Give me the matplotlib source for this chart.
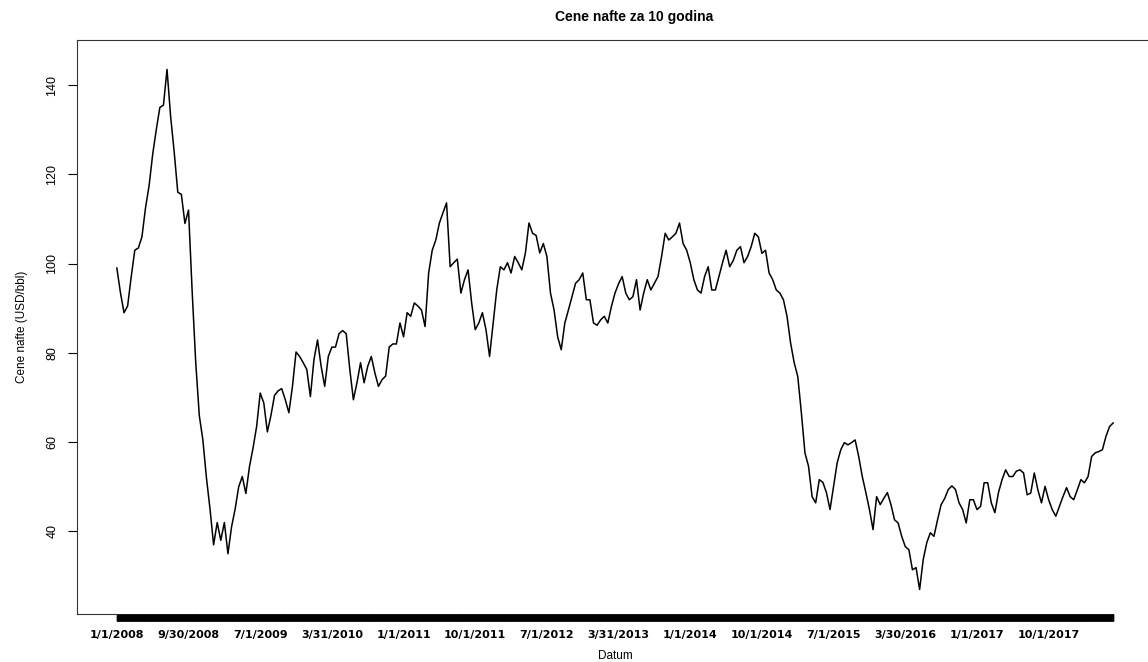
import numpy as np
import matplotlib
matplotlib.use('Agg')
import matplotlib.pyplot as plt

plt.rcParams['font.family'] = ['Liberation Sans', 'DejaVu Sans']

price = [
    99.0, 93.5, 89.0, 90.5, 97.0, 103.0, 103.5, 106.0, 112.5, 117.5,
    124.5, 130.0, 135.0, 135.5, 143.5, 133.0, 125.0, 116.0, 115.5, 109.0,
    112.0, 94.0, 78.0, 66.0, 60.5, 52.0, 45.0, 37.0, 42.0, 38.0,
    42.0, 35.0, 41.0, 45.0, 50.0, 52.3, 48.5, 54.5, 58.7, 63.5,
    71.0, 68.8, 62.3, 66.0, 70.5, 71.5, 72.0, 69.5, 66.6, 72.5,
    80.2, 79.2, 77.8, 76.3, 70.2, 78.5, 82.9, 77.0, 72.5, 79.2,
    81.3, 81.3, 84.3, 85.0, 84.3, 76.3, 69.5, 73.3, 77.8, 73.3,
    77.0, 79.2, 75.5, 72.5, 74.0, 74.8, 81.3, 82.0, 82.0, 86.7,
    83.6, 89.0, 88.2, 91.2, 90.5, 89.6, 85.9, 97.9, 103.0, 105.3,
    109.1, 111.4, 113.6, 99.3, 100.2, 101.0, 93.4, 96.4, 98.6, 91.2,
    85.2, 86.7, 89.0, 85.2, 79.2, 86.7, 94.1, 99.3, 98.6, 100.2,
    97.9, 101.6, 100.2, 98.6, 102.4, 109.1, 106.8, 106.3, 102.4, 104.5,
    101.6, 93.4, 89.6, 83.6, 80.7, 86.7, 89.6, 92.6, 95.6, 96.4,
    97.9, 91.9, 91.9, 86.7, 86.2, 87.4, 88.2, 86.7, 90.4, 93.4,
    95.5, 97.1, 93.4, 91.9, 92.6, 96.4, 89.6, 93.4, 96.4, 94.1,
    95.6, 97.1, 101.6, 106.8, 105.3, 106.0, 106.8, 109.1, 104.5, 103.0,
    100.2, 96.4, 94.1, 93.4, 97.1, 99.3, 94.1, 94.1, 97.1, 100.2,
    103.0, 99.3, 100.7, 103.0, 103.8, 100.2, 101.6, 103.8, 106.8, 106.0,
    102.3, 103.0, 97.9, 96.4, 94.1, 93.4, 91.9, 88.2, 82.2, 77.8,
    74.7, 66.6, 57.6, 54.6, 47.8, 46.4, 51.6, 51.0, 48.7, 44.9,
    50.2, 55.4, 58.3, 59.9, 59.4, 59.9, 60.5, 56.8, 52.3, 48.7,
    44.9, 40.4, 47.8, 46.0, 47.4, 48.7, 46.0, 42.6, 41.9, 38.9,
    36.6, 35.9, 31.4, 31.9, 27.0, 33.7, 37.5, 39.7, 38.9, 42.6,
    46.0, 47.4, 49.4, 50.2, 49.4, 46.4, 44.9, 41.9, 47.1, 47.1,
    44.9, 45.6, 50.9, 50.9, 46.4, 44.2, 48.7, 51.6, 53.8, 52.3,
    52.3, 53.5, 53.8, 53.1, 48.2, 48.6, 53.1, 49.3, 46.4, 50.1,
    47.1, 44.9, 43.4, 45.6, 47.8, 49.8, 47.8, 47.1, 49.3, 51.6,
    50.9, 52.3, 56.8, 57.6, 57.9, 58.3, 61.3, 63.5, 64.3,
]

date_labels = ['1/1/2008', '9/30/2008', '7/1/2009', '3/31/2010', '1/1/2011',
               '10/1/2011', '7/1/2012', '3/31/2013', '1/1/2014', '10/1/2014',
               '7/1/2015', '3/30/2016', '1/1/2017', '10/1/2017']

step = 9          # days per sample
per_label = 20    # samples between labels

day = np.arange(len(price)) * step
label_pos = np.arange(len(date_labels)) * per_label * step

fig = plt.figure(figsize=(11.48, 6.62), dpi=100)
ax = fig.add_axes([77/1148, 48/662, 1076/1148, 574/662])

ax.plot(day, price, color='black', linewidth=1.1)

span = day[-1]
ax.set_xlim(-0.04 * span, span * 1.04)
ax.set_ylim(21.5, 150.1)

# one tick per day -> solid black bar like the R plot
ax.set_xticks(np.arange(0, span + 1), minor=True)
ax.set_xticks(label_pos)
ax.set_xticklabels(date_labels, fontsize=8, fontweight='bold', family='DejaVu Sans')
ax.tick_params(axis='x', which='both', length=5, width=1, pad=6.5, color='black')

ax.set_yticks([40, 60, 80, 100, 120, 140])
ax.set_yticklabels(['40', '60', '80', '100', '120', '140'], rotation=90, va='center', fontsize=9)
ax.tick_params(axis='y', length=6.5, width=0.8, pad=7)

for s in ax.spines.values():
    s.set_linewidth(0.8)
    s.set_color('#333333')
ax.spines['bottom'].set_bounds(-0.04 * span, 0)

ax.set_title('Cene nafte za 10 godina', fontsize=10, fontweight='bold', x=0.518, pad=14)
ax.set_xlabel('Datum', fontsize=8.5, labelpad=7)
ax.set_ylabel('Cene nafte (USD/bbl)', fontsize=8.5, labelpad=13)

fig.savefig('out.png', dpi=100)
